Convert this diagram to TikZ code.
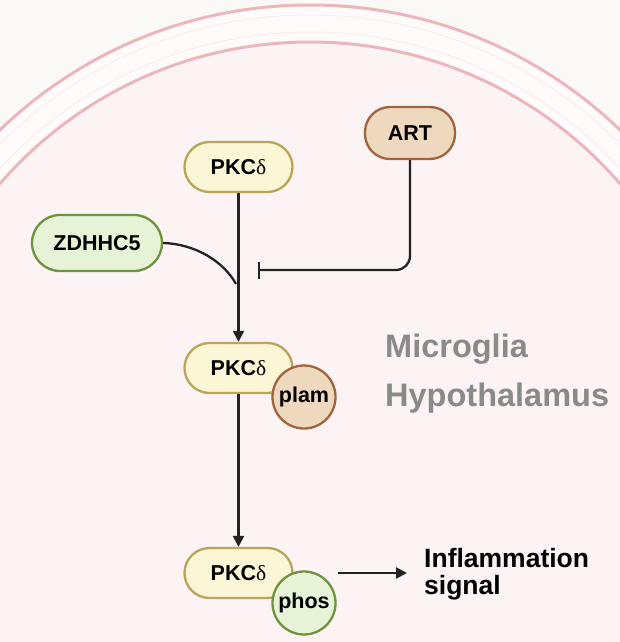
\documentclass[tikz,border=0pt]{standalone}
\usepackage{fontspec}
\setsansfont{Liberation Sans}
\newfontfamily\dltfont{Liberation Serif}
\usetikzlibrary{arrows.meta}
\definecolor{outbg}{HTML}{FBF8F8}
\definecolor{bandbg}{HTML}{FFFBFB}
\definecolor{inbg}{HTML}{FCF3F4}
\definecolor{memb}{HTML}{EBB7BD}
\definecolor{pkcfill}{HTML}{FAF6D6}
\definecolor{pkcdraw}{HTML}{B9A45A}
\definecolor{brfill}{HTML}{EED8BE}
\definecolor{brdraw}{HTML}{A2643E}
\definecolor{grfill}{HTML}{E6F3D6}
\definecolor{grdraw}{HTML}{6F923E}
\definecolor{lbl}{HTML}{8A8A8A}
\definecolor{ink}{HTML}{222222}
\newcommand{\dlt}{{\dltfont\mdseries δ}}
\tikzset{
  pill/.style={rectangle, rounded corners=25pt, line width=2.3pt, minimum height=50pt,
    font=\sffamily\bfseries\fontsize{21.5}{25}\selectfont, text=black, inner sep=0pt},
  pkc/.style={pill, fill=pkcfill, draw=pkcdraw, minimum width=108pt},
  art/.style={pill, fill=brfill, draw=brdraw, minimum width=90pt, minimum height=52pt},
  zd/.style={pill, fill=grfill, draw=grdraw, minimum width=130pt, minimum height=56pt, rounded corners=28pt},
  mod/.style={circle, line width=2.3pt, minimum size=63pt, inner sep=0pt,
    font=\sffamily\bfseries\fontsize{21.5}{25}\selectfont, text=black},
  plam/.style={mod, fill=brfill, draw=brdraw},
  phos/.style={mod, fill=grfill, draw=grdraw},
  conn/.style={line width=2.3pt, draw=ink},
  act/.style={conn, -{Triangle[length=11pt,width=11pt]}},
  inh/.style={conn, -{Bar[width=17pt,line width=2.3pt]}},
  biglbl/.style={font=\sffamily\bfseries\fontsize{32.5}{36}\selectfont, text=lbl, inner sep=0pt},
  sig/.style={font=\sffamily\bfseries\fontsize{26.5}{27}\selectfont, text=black, inner sep=0pt, align=left}
}
\begin{document}
\begin{tikzpicture}[x=1pt,y=-1pt]
\useasboundingbox (0,0) rectangle (620,642);
\fill[outbg] (0,0) rectangle (620,642);
\begin{scope}
\clip (0,0) rectangle (620,642);
\fill[bandbg] (310,452) circle (447);
\fill[inbg] (310,452) circle (410);
\draw[memb, line width=3pt] (310,452) circle (447);
\draw[memb, line width=3pt] (310,452) circle (410);
\draw[memb!30, line width=0.8pt] (310,452) circle (437);
\draw[memb!30, line width=0.8pt] (310,452) circle (420);
\end{scope}

\node[pkc] (p1) at (238.5,167) {PKC\dlt};
\node[art] (art) at (410,133) {ART};
\node[zd] (zd) at (97,243) {ZDHHC5};
\node[pkc] (p2) at (238.5,368) {PKC\dlt};
\node[plam] (plam) at (304,397) {plam};
\node[pkc] (p3) at (238.5,573) {PKC\dlt};
\node[phos] (phos) at (304,603) {phos};

\node[biglbl, anchor=base west] (mg) at (385,357) {Microglia};
\node[biglbl, anchor=base west] (hy) at (385,406) {Hypothalamus};
\node[sig, anchor=base west] (sg) at (424,594) {Inflammation\\signal};

\coordinate (join) at (236,284);
\coordinate (bar) at (258,270);
\coordinate (a1) at (338,573);
\coordinate (a2) at (407,573);

\draw[act] (p1.south) -- (p2.north);
\draw[conn] (zd.east) .. controls (196,244) and (224,262) .. (join);
\draw[inh, rounded corners=14pt] (art.south) |- (bar);
\draw[act] (p2.south) -- (p3.north);
\draw[act] (a1) -- (a2);
\end{tikzpicture}
\end{document}
